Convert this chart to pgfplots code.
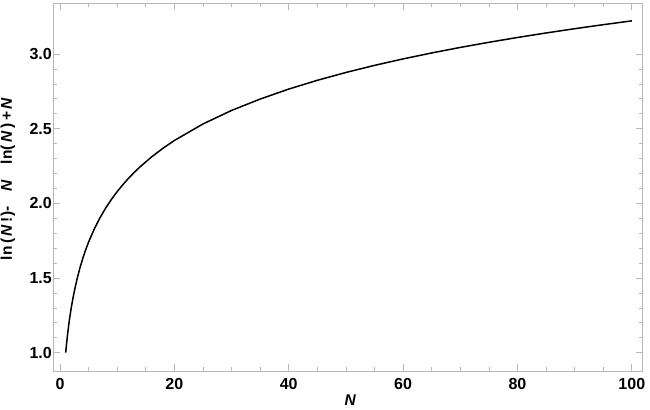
\documentclass[border=0pt]{standalone}
\usepackage{fontspec}
\setmainfont{Liberation Sans}
\usepackage{pgfplots}
\pgfplotsset{compat=1.18}
\usetikzlibrary{calc}
\definecolor{framegray}{gray}{0.72}

\begin{document}
\begin{tikzpicture}
\begin{axis}[
    scale only axis,
    width=589.4bp, height=368bp,
    xmin=-1.17, xmax=101.9,
    ymin=0.877, ymax=3.342,
    axis line style={framegray, line width=0.7bp},
    xtick={0,20,...,100},
    ytick={1,1.5,...,3},
    minor x tick num=3,
    minor y tick num=4,
    tick align=inside,
    major tick length=7bp,
    minor tick length=4bp,
    every tick/.style={framegray, line width=0.7bp},
    /pgf/number format/assume math mode=true,
    ticklabel style={font=\fontsize{16bp}{16bp}\selectfont\bfseries, text=black},
    yticklabel style={xshift=2bp, /pgf/number format/.cd, fixed, fixed zerofill, precision=1},
    xticklabel style={yshift=-3.7bp},
    label style={font=\fontsize{15.5bp}{15.5bp}\selectfont\bfseries},
    xlabel={\textit{N}},
    xlabel style={at={(axis description cs:0.504,-0.0788)}, anchor=center},
    ylabel={ln\,(\,\textit{N}\,!)-\quad\textit{N}\quad ln(\,\textit{N}\,)\,+\,\textit{N}},
    ylabel style={at={(axis description cs:-0.0769,0.5217)}, anchor=center},
]
\addplot[black, line width=1.5bp] coordinates {
    (1,1.00000) (1.05,1.02071) (1.1,1.04060) (1.2,1.07816) (1.3,1.11312)
    (1.4,1.14580) (1.5,1.17649) (1.6,1.20541) (1.7,1.23275) (1.8,1.25868)
    (2,1.30685) (2.2,1.35080) (2.5,1.41026) (3,1.49592) (3.5,1.56907)
    (4,1.63288) (4.5,1.68947) (5,1.74030) (6,1.82870) (7,1.90379)
    (8,1.96907) (9,2.02681) (10,2.07856) (11,2.12546) (12,2.16834)
    (13,2.20782) (14,2.24442) (16,2.31044) (18,2.36878) (20,2.42097)
    (25,2.53171) (30,2.62232) (35,2.69842) (40,2.76546) (45,2.82412)
    (50,2.87662) (55,2.92412) (60,2.96750) (65,3.00742) (70,3.04438)
    (75,3.07877) (80,3.11099) (85,3.14123) (90,3.16977) (95,3.19676)
    (100,3.22236)
};
\end{axis}
\pgfresetboundingbox
\path ($(current axis.south west)+(-53.3bp,-39bp)$) rectangle ($(current axis.north east)+(7.3bp,3bp)$);
\end{tikzpicture}
\end{document}
